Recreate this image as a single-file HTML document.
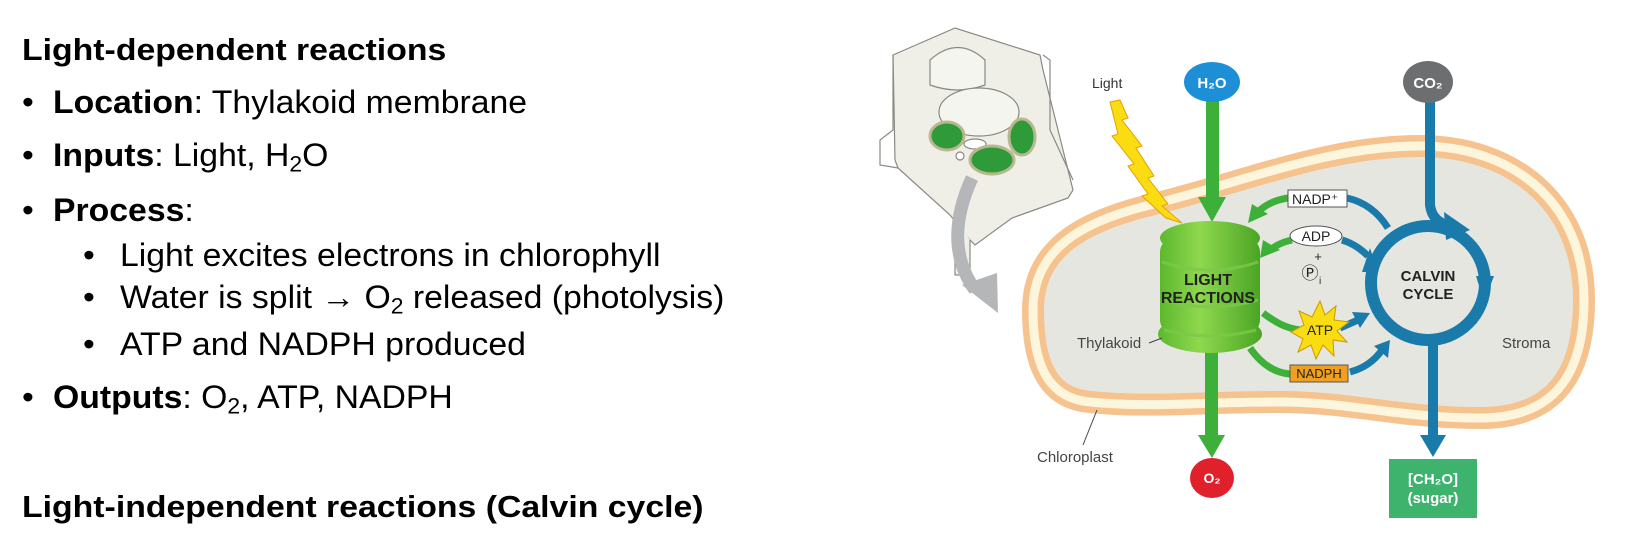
<!DOCTYPE html>
<html><head><meta charset="utf-8"><style>
html,body{margin:0;padding:0;background:#fff;}
body{width:1650px;height:539px;position:relative;overflow:hidden;font-family:"Liberation Sans",Arial,sans-serif;color:#000;}
.t{position:absolute;white-space:nowrap;font-size:32px;line-height:1;transform:scaleX(1.055);transform-origin:0 0;}
.h{font-weight:bold;font-size:31px;transform:scaleX(1.09);}
sub{font-size:0.68em;vertical-align:-0.25em;line-height:0;}
</style></head><body>
<div class="t h" style="left:22px;top:34px;">Light-dependent reactions</div>
<div class="t" style="left:22px;top:86px;">•</div><div class="t" style="left:53px;top:86px;"><b>Location</b>: Thylakoid membrane</div>
<div class="t" style="left:22px;top:139px;">•</div><div class="t" style="left:53px;top:139px;"><b>Inputs</b>: Light, H<sub>2</sub>O</div>
<div class="t" style="left:22px;top:194px;">•</div><div class="t" style="left:53px;top:194px;"><b>Process</b>:</div>
<div class="t" style="left:83px;top:239px;">•</div><div class="t" style="left:120px;top:239px;">Light excites electrons in chlorophyll</div>
<div class="t" style="left:83px;top:281px;">•</div><div class="t" style="left:120px;top:281px;">Water is split → O<sub>2</sub> released (photolysis)</div>
<div class="t" style="left:83px;top:328px;">•</div><div class="t" style="left:120px;top:328px;">ATP and NADPH produced</div>
<div class="t" style="left:22px;top:381px;">•</div><div class="t" style="left:53px;top:381px;"><b>Outputs</b>: O<sub>2</sub>, ATP, NADPH</div>
<div class="t h" style="left:22px;top:491px;">Light-independent reactions (Calvin cycle)</div>

<svg style="position:absolute;left:0;top:0" width="1650" height="539" viewBox="0 0 1650 539" font-family="Liberation Sans, Arial, sans-serif">
<defs>
<linearGradient id="g" x1="0" x2="1"><stop offset="0" stop-color="#5cb82e"/><stop offset="0.4" stop-color="#8fd84e"/><stop offset="1" stop-color="#4aa524"/></linearGradient>
</defs>
<!-- cell -->
<g stroke="#8a8a84" stroke-width="1.2" fill="#efefe8">
<polygon points="893,55 955,28 1040,55 1043,70 1073,190 1068,198 1012,218 975,245 970,240 950,215 898,168 895,160"/>
<path d="M930,60 Q958,35 985,60 L985,85 Q958,95 930,85 Z" fill="#f5f5ef"/>
<ellipse cx="979" cy="112" rx="40" ry="24" fill="#f5f5ef"/>
<polyline points="893,55 893,130 880,140 880,165 898,168" fill="none"/>
<polyline points="1043,55 1050,60 1050,130 1073,180" fill="none"/>
<circle cx="960" cy="156" r="4" fill="#fff"/>
<ellipse cx="975" cy="144" rx="11" ry="5" fill="#fff"/>
<polyline points="970,240 970,275 955,275 955,215" fill="#efefe8"/>
</g>
<g fill="#2f9a3a" stroke="#b8b88e" stroke-width="3">
<ellipse cx="947" cy="136" rx="17" ry="14"/>
<ellipse cx="1022" cy="137" rx="13" ry="18"/>
<ellipse cx="992" cy="160" rx="22" ry="14"/>
</g>
<path d="M972,178 C955,215 950,255 975,290" stroke="#b5b6b8" stroke-width="13" fill="none"/>
<polygon points="962,285 997,273 998,313" fill="#b5b6b8"/>
<!-- chloroplast -->
<path d="M1033,310 C1033,250 1080,222 1150,205 C1250,180 1330,146 1420,146 C1510,146 1584,200 1584,300 C1584,380 1550,418 1480,418 C1400,418 1350,402 1280,402 C1200,402 1150,408 1090,402 C1045,398 1033,360 1033,310 Z" fill="#e6e6e1" stroke="#f6c28e" stroke-width="22"/>
<path d="M1033,310 C1033,250 1080,222 1150,205 C1250,180 1330,146 1420,146 C1510,146 1584,200 1584,300 C1584,380 1550,418 1480,418 C1400,418 1350,402 1280,402 C1200,402 1150,408 1090,402 C1045,398 1033,360 1033,310 Z" fill="none" stroke="#fdf5dc" stroke-width="9"/>
<!-- lightning -->
<polygon points="1110,102 1120,100 1128,118 1122,120 1142,146 1136,148 1154,176 1148,178 1168,204 1162,206 1182,223 1166,218 1142,196 1148,194 1128,166 1134,164 1112,136 1118,134" fill="#f9dc12" stroke="#e8a000" stroke-width="1"/>
<text x="1092" y="88" font-size="14" fill="#333">Light</text>
<!-- green H2O arrow -->
<rect x="1206" y="100" width="13" height="100" fill="#3db03a"/>
<polygon points="1198,197 1226,197 1212,222" fill="#3db03a"/>
<rect x="1205" y="350" width="13" height="88" fill="#3db03a"/>
<polygon points="1198,435 1225,435 1212,458" fill="#3db03a"/>
<!-- blue CO2 / Calvin -->
<path d="M1430,100 L1430,205 Q1432,222 1450,226" stroke="#1a7bab" stroke-width="10" fill="none"/>
<circle cx="1428" cy="283" r="57" fill="none" stroke="#1a7bab" stroke-width="12"/>
<polygon points="1444,212 1470,230 1446,240" fill="#1a7bab"/>
<polygon points="1476,276 1494,276 1484,302" fill="#1a7bab"/>
<polygon points="1362,272 1378,272 1370,248" fill="#1a7bab"/>
<path d="M1433,340 L1433,438" stroke="#1a7bab" stroke-width="10"/>
<polygon points="1420,435 1446,435 1433,457" fill="#1a7bab"/>
<!-- blue return arrows -->
<path d="M1347,198 C1365,202 1378,212 1388,228" stroke="#1a7bab" stroke-width="7" fill="none"/>
<path d="M1342,240 C1352,243 1360,248 1368,256" stroke="#1a7bab" stroke-width="7" fill="none"/>
<path d="M1340,328 L1358,320" stroke="#1a7bab" stroke-width="7"/>
<polygon points="1352,312 1370,313 1360,328" fill="#1a7bab"/>
<path d="M1350,372 C1365,368 1375,360 1382,350" stroke="#1a7bab" stroke-width="7" fill="none"/>
<polygon points="1374,346 1390,340 1388,358" fill="#1a7bab"/>
<!-- green return arrows -->
<path d="M1288,198 C1275,200 1265,205 1258,212" stroke="#3db03a" stroke-width="7" fill="none"/>
<polygon points="1248,223 1252,204 1268,214" fill="#3db03a"/>
<path d="M1292,240 C1282,242 1275,246 1270,250" stroke="#3db03a" stroke-width="7" fill="none"/>
<polygon points="1260,258 1263,240 1280,250" fill="#3db03a"/>
<path d="M1263,313 C1275,322 1285,328 1300,330" stroke="#3db03a" stroke-width="7" fill="none"/>
<path d="M1250,348 C1262,365 1275,373 1290,374" stroke="#3db03a" stroke-width="7" fill="none"/>
<!-- thylakoid stack -->
<g fill="url(#g)">
<ellipse cx="1210" cy="238" rx="50" ry="17"/>
<rect x="1160" y="238" width="100" height="96" rx="14"/>
<ellipse cx="1210" cy="334" rx="52" ry="19"/>
</g>
<g stroke="#7cc94a" stroke-width="3" fill="none" opacity="0.8">
<path d="M1162,262 Q1210,278 1258,262"/><path d="M1162,300 Q1210,314 1258,300"/><path d="M1164,330 Q1210,342 1256,330"/>
</g>
<text x="1208" y="285" font-size="16" font-weight="bold" text-anchor="middle" fill="#222">LIGHT</text>
<text x="1208" y="303" font-size="16" font-weight="bold" text-anchor="middle" fill="#222">REACTIONS</text>
<text x="1077" y="348" font-size="15" fill="#444">Thylakoid</text>
<path d="M1149,343 L1162,338" stroke="#444"/>
<!-- labels -->
<rect x="1288" y="190" width="59" height="17" fill="#fff" stroke="#555"/>
<text x="1292" y="204" font-size="14" fill="#222">NADP⁺</text>
<ellipse cx="1316" cy="236" rx="26" ry="10" fill="#fff" stroke="#555"/>
<text x="1316" y="241" font-size="14" text-anchor="middle" fill="#222">ADP</text>
<text x="1318" y="261" font-size="13" text-anchor="middle" fill="#222">+</text>
<text x="1310" y="279" font-size="17" text-anchor="middle" fill="#222">Ⓟ</text><text x="1319" y="284" font-size="10" fill="#222">i</text>
<polygon points="1320,301 1325,315 1336,306 1334,320 1349,322 1337,331 1347,342 1333,340 1334,356 1323,345 1316,359 1311,345 1298,352 1303,339 1291,332 1304,325 1299,311 1312,317" fill="#f9dc12" stroke="#c89a00"/>
<text x="1320" y="335" font-size="14" text-anchor="middle" fill="#222">ATP</text>
<rect x="1290" y="365" width="58" height="17" fill="#f0a020" stroke="#555"/>
<text x="1319" y="378" font-size="13" text-anchor="middle" fill="#222">NADPH</text>
<text x="1428" y="281" font-size="15" font-weight="bold" text-anchor="middle" fill="#222">CALVIN</text>
<text x="1428" y="299" font-size="15" font-weight="bold" text-anchor="middle" fill="#222">CYCLE</text>
<text x="1502" y="348" font-size="15" fill="#444">Stroma</text>
<path d="M1097,410 L1083,445" stroke="#444"/>
<text x="1037" y="462" font-size="15" fill="#444">Chloroplast</text>
<!-- nodes -->
<ellipse cx="1212" cy="82" rx="28" ry="20" fill="#1d8fd6"/>
<text x="1212" y="88" font-size="15" font-weight="bold" text-anchor="middle" fill="#fff">H₂O</text>
<ellipse cx="1428" cy="82" rx="25" ry="21" fill="#6d6e70"/>
<text x="1428" y="88" font-size="15" font-weight="bold" text-anchor="middle" fill="#fff">CO₂</text>
<ellipse cx="1212" cy="478" rx="22" ry="20" fill="#e0202a"/>
<text x="1212" y="483" font-size="14" font-weight="bold" text-anchor="middle" fill="#fff">O₂</text>
<rect x="1389" y="459" width="88" height="59" fill="#3db36e"/>
<text x="1433" y="484" font-size="15" font-weight="bold" text-anchor="middle" fill="#fff">[CH₂O]</text>
<text x="1433" y="503" font-size="15" font-weight="bold" text-anchor="middle" fill="#fff">(sugar)</text>
</svg>
</body></html>
